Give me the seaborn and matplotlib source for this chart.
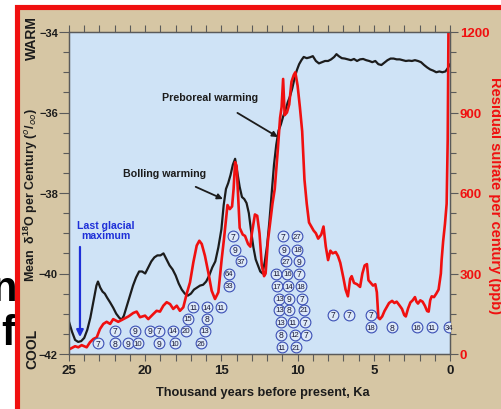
import numpy as np
import pandas as pd
import matplotlib
matplotlib.use("Agg")
import matplotlib.pyplot as plt
from matplotlib.patches import Rectangle
from matplotlib.ticker import MultipleLocator
import seaborn as sns

sns.set_style("ticks")
plt.rcParams['font.family'] = ['Liberation Sans', 'DejaVu Sans']
plt.rcParams['mathtext.fontset'] = 'custom'
plt.rcParams['mathtext.rm'] = 'Liberation Sans:bold'
plt.rcParams['mathtext.bf'] = 'Liberation Sans:bold'

# --- data ---
# delta 18O (per mil), black curve
d18o_ka = [25.0, 24.8, 24.6, 24.4, 24.2, 24.0, 23.8, 23.6, 23.4, 23.2, 23.1, 22.95, 22.8, 22.65,
           22.5, 22.3, 22.1, 21.9, 21.7, 21.55, 21.4, 21.2, 21.0, 20.8, 20.6, 20.4, 20.2, 20.0,
           19.8, 19.6, 19.4, 19.2, 19.0, 18.8, 18.6, 18.4, 18.2, 18.0, 17.8, 17.6, 17.4, 17.2,
           17.0, 16.8, 16.6, 16.4, 16.2, 16.0, 15.8, 15.6, 15.4, 15.2, 15.0, 14.85, 14.7, 14.55,
           14.4, 14.25, 14.1, 13.95, 13.8, 13.65, 13.5, 13.35, 13.2, 13.05, 12.9, 12.75, 12.6,
           12.45, 12.3, 12.15, 12.0, 11.85, 11.7, 11.55, 11.4, 11.25, 11.1, 10.95, 10.8, 10.65,
           10.5, 10.35, 10.2, 10.05, 9.9, 9.75, 9.6, 9.4, 9.2, 9.0, 8.8, 8.6, 8.4, 8.2, 8.0, 7.8,
           7.6, 7.45, 7.3, 7.1, 6.9, 6.7, 6.5, 6.3, 6.1, 5.9, 5.7, 5.5, 5.3, 5.1, 4.9, 4.7, 4.5,
           4.3, 4.1, 3.9, 3.7, 3.5, 3.3, 3.1, 2.9, 2.7, 2.5, 2.3, 2.1, 1.9, 1.7, 1.5, 1.3, 1.1,
           0.9, 0.7, 0.5, 0.3, 0.15, 0.0]
d18o_val = [-41.2, -41.45, -41.65, -41.7, -41.68, -41.6, -41.4, -41.1, -40.7, -40.3, -40.2, -40.35,
            -40.45, -40.5, -40.6, -40.72, -40.85, -41.0, -41.1, -41.15, -41.05, -40.8, -40.55, -40.3,
            -40.1, -39.95, -39.95, -40.0, -39.85, -39.7, -39.6, -39.55, -39.55, -39.5, -39.65, -39.8,
            -39.9, -40.05, -40.25, -40.4, -40.5, -40.55, -40.5, -40.4, -40.35, -40.3, -40.28, -40.2,
            -40.05, -39.85, -39.7, -39.35, -38.9, -38.3, -37.9, -37.75, -37.55, -37.3, -37.15, -37.5,
            -37.85, -38.1, -38.15, -38.25, -38.5, -38.95, -39.35, -39.65, -39.8, -39.95, -40.0, -39.7,
            -39.3, -38.7, -38.0, -37.3, -36.8, -36.45, -36.3, -36.1, -35.95, -35.75, -35.6, -35.4,
            -35.15, -34.95, -34.8, -34.7, -34.62, -34.65, -34.63, -34.6, -34.72, -34.78, -34.75,
            -34.72, -34.72, -34.68, -34.62, -34.55, -34.6, -34.65, -34.66, -34.68, -34.7, -34.67,
            -34.72, -34.68, -34.67, -34.7, -34.72, -34.75, -34.72, -34.8, -34.82, -34.76, -34.7,
            -34.66, -34.66, -34.68, -34.68, -34.7, -34.72, -34.71, -34.72, -34.7, -34.72, -34.75,
            -34.82, -34.88, -34.93, -34.96, -35.0, -34.98, -35.0, -34.98, -34.9, -34.8]

# residual sulfate (ppb), red curve
so4_ka = [25.0, 24.93, 24.6, 24.39, 24.17, 23.84, 23.62, 23.4, 23.18, 22.97, 22.75, 22.53, 22.3,
          22.1, 21.77, 21.43, 21.1, 20.78, 20.56, 20.34, 20.01, 19.8, 19.47, 19.25, 19.03, 18.81,
          18.59, 18.37, 18.16, 17.93, 17.72, 17.5, 17.28, 17.06, 16.84, 16.62, 16.45, 16.29, 16.08,
          15.86, 15.64, 15.42, 15.2, 14.98, 14.83, 14.7, 14.6, 14.45, 14.3, 14.2, 14.1, 14.0, 13.8,
          13.6, 13.45, 13.25, 13.1, 13.0, 12.8, 12.65, 12.5, 12.35, 12.2, 12.1, 11.95, 11.8, 11.65,
          11.5, 11.3, 11.15, 11.05, 10.95, 10.85, 10.7, 10.55, 10.4, 10.25, 10.15, 10.0, 9.85, 9.7,
          9.55, 9.4, 9.25, 9.1, 8.95, 8.8, 8.65, 8.45, 8.3, 8.15, 8.0, 7.85, 7.7, 7.5, 7.35, 7.2,
          7.0, 6.85, 6.7, 6.55, 6.45, 6.3, 6.1, 5.9, 5.75, 5.6, 5.45, 5.35, 5.2, 5.05, 4.9, 4.8,
          4.7, 4.6, 4.45, 4.3, 4.15, 4.0, 3.8, 3.65, 3.5, 3.3, 3.15, 3.0, 2.9, 2.75, 2.6, 2.45,
          2.3, 2.2, 2.1, 1.95, 1.8, 1.65, 1.5, 1.4, 1.3, 1.2, 1.05, 0.9, 0.75, 0.6, 0.55, 0.45,
          0.33, 0.22, 0.15, 0.1]
so4_val = [18, 19, 29, 25, 33, 25, 44, 56, 62, 93, 112, 120, 112, 130, 120, 130, 140, 153, 158,
           137, 143, 130, 149, 161, 158, 180, 193, 186, 168, 180, 161, 174, 224, 267, 342, 404, 422,
           410, 366, 304, 236, 205, 230, 354, 429, 500, 555, 540, 550, 615, 715, 700, 470, 445, 440,
           410, 400, 450, 520, 515, 450, 330, 290, 300, 420, 490, 560, 615, 760, 880, 920, 1025, 890,
           900, 930, 1015, 1040, 1050, 1000, 920, 830, 650, 560, 490, 475, 460, 450, 430, 445, 475,
           400, 350, 385, 375, 380, 365, 340, 285, 240, 215, 280, 290, 265, 260, 250, 300, 330, 335,
           275, 265, 255, 260, 230, 135, 130, 140, 160, 175, 190, 198, 190, 195, 180, 168, 145, 140,
           170, 192, 200, 212, 195, 188, 200, 195, 180, 160, 158, 200, 215, 212, 225, 240, 300, 350,
           420, 485, 560, 800, 1210]

# circled counts (position in Ka and in delta-18O units)
circ_ka = [23.08, 22.0, 22.0, 20.67, 21.1, 20.5, 19.69, 19.09, 19.09, 18.2, 18.04, 17.32, 17.21,
           16.84, 15.97, 15.93, 16.08, 16.34, 15.05,
           14.22, 14.11, 13.74, 14.48, 14.52,
           10.98, 10.89, 10.76, 11.42, 10.68, 11.37, 10.61, 11.2, 10.54, 11.2, 10.54, 11.11, 10.33,
           11.11, 10.17, 11.04, 10.1,
           10.06, 10.02, 9.89, 9.89, 9.8, 9.73, 9.58, 9.51, 9.47,
           7.66, 6.61, 5.2, 5.2, 3.83, 2.19, 1.2, 0.07]
circ_d18o = [-41.73, -41.42, -41.73, -41.42, -41.73, -41.73, -41.42, -41.42, -41.73, -41.42, -41.73,
             -41.42, -41.13, -40.84, -40.84, -41.13, -41.42, -41.73, -40.84,
             -39.07, -39.41, -39.70, -40.01, -40.30,
             -39.07, -39.41, -39.70, -40.01, -40.01, -40.32, -40.32, -40.63, -40.63, -40.90, -40.90,
             -41.21, -41.21, -41.52, -41.52, -41.83, -41.83,
             -39.07, -39.41, -39.70, -40.01, -40.32, -40.63, -40.90, -41.21, -41.52,
             -41.02, -41.02, -41.02, -41.34, -41.34, -41.34, -41.34, -41.34]
circ_lbl = ['7', '7', '8', '9', '9', '10', '9', '7', '9', '14', '10', '20', '15',
            '11', '14', '8', '13', '26', '11',
            '7', '9', '37', '64', '33',
            '7', '9', '27', '11', '16', '17', '14', '13', '9', '13', '8', '13', '11',
            '8', '12', '11', '21',
            '27', '18', '9', '7', '18', '7', '21', '7', '7',
            '7', '7', '7', '18', '8', '16', '11', '34']

black_df = pd.DataFrame({'ka': d18o_ka, 'd18o': d18o_val})
red_df = pd.DataFrame({'ka': so4_ka, 'so4': so4_val})

TAN = '#d6c6a4'
BLUE_BG = '#cfe3f6'
RED = '#f01010'
DARK = '#1c1c1c'

fig = plt.figure(figsize=(5.02, 4.10), dpi=100)
fig.patch.set_facecolor('white')

# slide background bits: tan panel with red frame, clipped letters at left
fig.patches.append(Rectangle((20 / 502, 0), 1, 400 / 410, transform=fig.transFigure,
                             facecolor=TAN, edgecolor='none', zorder=-3))
fig.text(17 / 502, 1 - 290 / 410, 'n', ha='right', va='center', fontsize=30, fontweight='bold',
         color='black', zorder=-2)
fig.text(15 / 502, 1 - 334 / 410, 'f', ha='right', va='center', fontsize=30, fontweight='bold',
         color='black', zorder=-2)
fig.patches.append(Rectangle((17.5 / 502, -0.1), 1.2, 1.1 - 7.5 / 410, transform=fig.transFigure,
                             facecolor='none', edgecolor=RED, lw=3.7, zorder=-1))

ax = fig.add_axes([69 / 502, 55 / 410, 381 / 502, 322 / 410])
ax.set_facecolor(BLUE_BG)
ax2 = ax.twinx()

sns.lineplot(data=black_df, x='ka', y='d18o', ax=ax, color=DARK, lw=1.6, sort=False)
sns.lineplot(data=red_df, x='ka', y='so4', ax=ax2, color=RED, lw=1.9, sort=False)

# circled counts
ax2.scatter(circ_ka, circ_d18o, s=60, facecolor='#dde9f8', edgecolor='#3b4fb5', linewidth=0.8,
            transform=ax.transData, zorder=5)
for k, d, t in zip(circ_ka, circ_d18o, circ_lbl):
    ax2.text(k, d, t, transform=ax.transData, ha='center', va='center',
             fontsize=5.6 if len(t) > 1 else 6.2, color='#1a1a3a', zorder=6)

ax.set_xlim(25, 0)
ax.set_ylim(-42, -34)
ax2.set_ylim(0, 1200)

ax.xaxis.set_major_locator(MultipleLocator(5))
ax.xaxis.set_minor_locator(MultipleLocator(1))
ax.yaxis.set_major_locator(MultipleLocator(2))
ax.yaxis.set_minor_locator(MultipleLocator(0.5))
ax2.yaxis.set_major_locator(MultipleLocator(300))
ax2.yaxis.set_minor_locator(MultipleLocator(75))

ax.set_xlabel('')
ax.set_ylabel('')
ax2.set_ylabel('')

for a in (ax, ax2):
    for s in a.spines.values():
        s.set_color('#5a5a5a')
        s.set_linewidth(0.9)

ax.tick_params(axis='x', which='both', direction='out', top=True, colors='#5a5a5a',
               labelcolor=DARK, labelsize=9.5, width=0.8, pad=2, length=5)
ax.tick_params(axis='y', which='major', direction='out', length=7, width=0.8, colors='#5a5a5a',
               labelcolor=DARK, labelsize=8, pad=1)
ax.tick_params(axis='y', which='minor', direction='out', length=4, width=0.8, colors='#5a5a5a')
ax2.tick_params(axis='y', which='major', direction='out', length=6, width=0.8, colors='#5a5a5a',
                labelcolor=RED, labelsize=9.5, pad=1)
ax2.tick_params(axis='y', which='minor', direction='out', length=4, width=0.8, colors='#5a5a5a')
ax.xaxis.set_major_formatter(lambda v, p: f'{v:g}')
for lab in ax.get_xticklabels() + ax.get_yticklabels() + ax2.get_yticklabels():
    lab.set_fontweight('bold')

# annotations
ax2.annotate('Preboreal warming', xy=(11.29, -36.61), xytext=(15.72, -35.61),
             xycoords=ax.transData, textcoords=ax.transData, ha='center', va='center',
             fontsize=7.7, fontweight='bold', color=DARK,
             arrowprops=dict(arrowstyle='-|>', color=DARK, lw=1.3, mutation_scale=8,
                             shrinkA=11, shrinkB=0))
ax2.annotate('Bolling warming', xy=(14.9, -38.15), xytext=(18.73, -37.5),
             xycoords=ax.transData, textcoords=ax.transData, ha='center', va='center',
             fontsize=7.7, fontweight='bold', color=DARK,
             arrowprops=dict(arrowstyle='-|>', color=DARK, lw=1.3, mutation_scale=8,
                             shrinkA=10, shrinkB=0))
ax2.text(22.57, -38.92, 'Last glacial\nmaximum', transform=ax.transData, ha='center', va='center',
         fontsize=7.6, fontweight='bold', color='#1e2fd8', linespacing=1.0)
ax2.annotate('', xy=(24.28, -41.58), xytext=(24.28, -39.34), xycoords=ax.transData,
             textcoords=ax.transData,
             arrowprops=dict(arrowstyle='-|>', color='#1e2fd8', lw=1.6, mutation_scale=10,
                             shrinkA=0, shrinkB=0))

# axis titles
fig.text(263 / 502, 1 - 393 / 410, 'Thousand years before present, Ka', ha='center', va='center',
         fontsize=9.2, fontweight='bold', color=DARK)
fig.text(31 / 502, 1 - 195 / 410,
         'Mean  δ$^{18}$O per Century ($^{o}$/$_{oo}$)', rotation=90, ha='center', va='center',
         fontsize=9, fontweight='bold', color=DARK)
fig.text(32 / 502, 1 - 38 / 410, 'WARM', rotation=90, ha='center', va='center',
         fontsize=10, fontweight='bold', color=DARK)
fig.text(32 / 502, 1 - 349 / 410, 'COOL', rotation=90, ha='center', va='center',
         fontsize=10, fontweight='bold', color=DARK)
fig.text(495 / 502, 1 - 196 / 410, 'Residual sulfate per century (ppb)', rotation=270,
         ha='center', va='center', fontsize=10.5, fontweight='bold', color=RED)

fig.savefig('out.png', dpi=100, facecolor=fig.get_facecolor())
